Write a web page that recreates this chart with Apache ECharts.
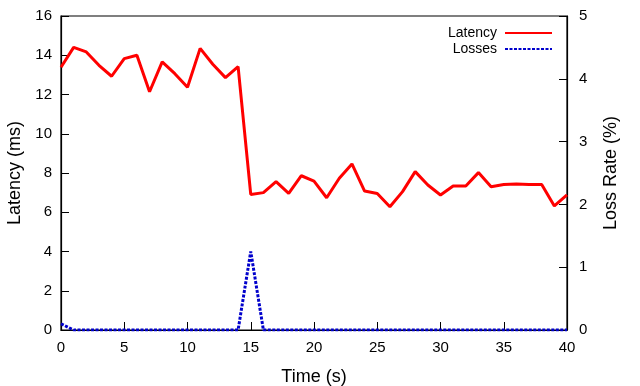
<!DOCTYPE html>
<html>
<head>
<meta charset="utf-8">
<script src="https://cdn.jsdelivr.net/npm/echarts@6/dist/echarts.min.js"></script>
<style>
  html, body { margin: 0; padding: 0; background: #fff; }
  #chart { width: 640px; height: 386px; }
</style>
</head>
<body>
<div id="chart"></div>
<script>
// time in seconds
const times = [0, 1, 2, 3, 4, 5, 6, 7, 8, 9, 10, 11, 12, 13, 14, 15, 16, 17, 18, 19, 20,
  21, 22, 23, 24, 25, 26, 27, 28, 29, 30, 31, 32, 33, 34, 35, 36, 37, 38, 39, 40];
// latency (ms)
const latency = [13.39, 14.40, 14.17, 13.49, 12.93, 13.83, 14.00, 12.14, 13.66, 13.06, 12.37,
  14.35, 13.54, 12.86, 13.42, 6.91, 7.00, 7.56, 6.96, 7.86, 7.59,
  6.74, 7.73, 8.46, 7.08, 6.96, 6.28, 7.05, 8.07, 7.39, 6.88,
  7.34, 7.34, 8.02, 7.30, 7.41, 7.44, 7.41, 7.41, 6.32, 6.88];
// loss rate (%)
const losses = [0.1, 0, 0, 0, 0, 0, 0, 0, 0, 0, 0,
  0, 0, 0, 0, 1.25, 0, 0, 0, 0, 0,
  0, 0, 0, 0, 0, 0, 0, 0, 0, 0,
  0, 0, 0, 0, 0, 0, 0, 0, 0, 0];

const font = 'Liberation Sans, Arial, sans-serif';
const tickLabel = { color: '#000', fontSize: 15, fontFamily: font, margin: 10 };
const nameStyle = { color: '#000', fontSize: 18, fontFamily: font };

const chart = echarts.init(document.getElementById('chart'), null, { renderer: 'canvas' });

const option = {
  animation: false,
  backgroundColor: '#fff',
  grid: {
    left: 61, right: 73, top: 16, bottom: 56,
    outerBoundsMode: 'none',
    containLabel: false,
    show: true, borderColor: '#000', borderWidth: 1.2
  },
  legend: {
    right: 82,
    top: 21,
    orient: 'vertical',
    align: 'right',
    itemWidth: 47,
    itemHeight: 10,
    itemGap: 2,
    itemStyle: { opacity: 0 },
    textStyle: { color: '#000', fontSize: 14, fontFamily: font, padding: [0, 3, 0, 0] },
    data: ['Latency', 'Losses']
  },
  xAxis: {
    type: 'value',
    min: 0,
    max: 40,
    interval: 5,
    name: 'Time (s)',
    nameLocation: 'middle',
    nameGap: 38,
    nameTextStyle: nameStyle,
    axisLine: { show: true, lineStyle: { color: '#000', width: 1.2 } },
    axisTick: { inside: true, length: 8, lineStyle: { color: '#000' } },
    axisLabel: tickLabel,
    splitLine: { show: false }
  },
  yAxis: [{
    type: 'value',
    min: 0,
    max: 16,
    interval: 2,
    name: 'Latency (ms)',
    nameLocation: 'middle',
    nameGap: 37,
    nameTextStyle: nameStyle,
    axisLine: { show: true, lineStyle: { color: '#000', width: 1.2 } },
    axisTick: { show: true, inside: true, length: 8, lineStyle: { color: '#000' } },
    axisLabel: Object.assign({}, tickLabel, { margin: 9 }),
    splitLine: { show: false }
  }, {
    type: 'value',
    min: 0,
    max: 5,
    interval: 1,
    position: 'right',
    name: 'Loss Rate (%)',
    nameLocation: 'middle',
    nameGap: 35,
    nameTextStyle: nameStyle,
    axisLine: { show: true, lineStyle: { color: '#000', width: 1.2 } },
    axisTick: { show: true, inside: true, length: 8, lineStyle: { color: '#000' } },
    axisLabel: Object.assign({}, tickLabel, { margin: 12 }),
    splitLine: { show: false }
  }],
  series: [{
    name: 'Latency',
    type: 'line',
    yAxisIndex: 0,
    symbol: 'none',
    color: '#ff0000',
    lineStyle: { color: '#ff0000', width: 3 },
    data: times.map((t, i) => [t, latency[i]])
  }, {
    name: 'Losses',
    type: 'line',
    yAxisIndex: 1,
    symbol: 'none',
    color: '#0000cc',
    lineStyle: { color: '#0000cc', width: 3, type: [3, 1.5] },
    data: times.map((t, i) => [t, losses[i]])
  }]
};

chart.setOption(option);
</script>
</body>
</html>
